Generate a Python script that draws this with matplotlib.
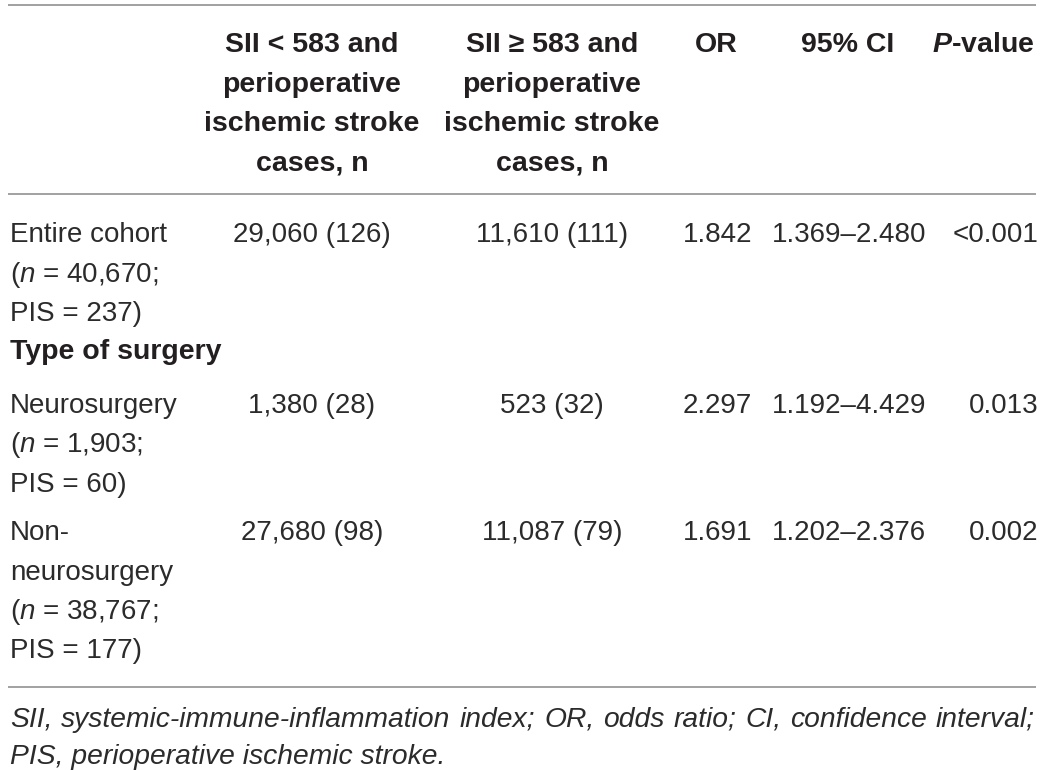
import matplotlib
matplotlib.use("Agg")
import matplotlib.pyplot as plt

plt.rcParams['font.family'] = ['Liberation Sans', 'DejaVu Sans']
plt.rcParams['mathtext.fontset'] = 'custom'
plt.rcParams['mathtext.rm'] = 'Liberation Sans'
plt.rcParams['mathtext.it'] = 'Liberation Sans:italic'
plt.rcParams['mathtext.bf'] = 'Liberation Sans:bold'
plt.rcParams['mathtext.bfit'] = 'Liberation Sans:bold:italic'

# table content
col_headers = [
    ["SII < 583 and", "perioperative", "ischemic stroke", "cases, n"],
    ["SII \u2265 583 and", "perioperative", "ischemic stroke", "cases, n"],
    ["OR"],
    ["95% CI"],
    [r"$\mathbfit{P}$-value"],
]
row_labels = [
    ["Entire cohort", r"($\mathit{n}$ = 40,670;", "PIS = 237)"],
    ["Neurosurgery", r"($\mathit{n}$ = 1,903;", "PIS = 60)"],
    ["Non-", "neurosurgery", r"($\mathit{n}$ = 38,767;", "PIS = 177)"],
]
section_label = "Type of surgery"
low_sii = ["29,060 (126)", "1,380 (28)", "27,680 (98)"]
high_sii = ["11,610 (111)", "523 (32)", "11,087 (79)"]
odds_ratio = ["1.842", "2.297", "1.691"]
conf_int = ["1.369\u20132.480", "1.192\u20134.429", "1.202\u20132.376"]
p_values = ["<0.001", "0.013", "0.002"]
footnote = ["SII, systemic-immune-inflammation index; OR, odds ratio; CI, confidence interval;",
            "PIS, perioperative ischemic stroke."]

txt = '#231f20'
body = '#2b2b2b'
fs = 20

fig = plt.figure(figsize=(10.43, 7.70), dpi=100)
ax = fig.add_axes([0, 0, 1, 1])
ax.set_xlim(0, 1043)
ax.set_ylim(770, 0)
ax.axis('off')

ax.hlines([5, 194, 687], 8, 1036, color='#9a9a9a', lw=1.3)

# header
head_x = [312, 552, 716, 848, 983]
step = 39.5
for x, lines in zip(head_x, col_headers):
    for i, s in enumerate(lines):
        ax.text(x, 52 + i * step, s, ha='center', va='baseline',
                fontsize=20.5, fontweight='bold', color=txt)

# body
row_top = [242, 413, 540]
for r, lines in enumerate(row_labels):
    y0 = row_top[r]
    for i, s in enumerate(lines):
        ax.text(10, y0 + i * step, s, ha='left', va='baseline', fontsize=fs, color=body)
    ax.text(312, y0, low_sii[r], ha='center', va='baseline', fontsize=fs, color=body)
    ax.text(552, y0, high_sii[r], ha='center', va='baseline', fontsize=fs, color=body)
    ax.text(752, y0, odds_ratio[r], ha='right', va='baseline', fontsize=fs, color=body)
    ax.text(849, y0, conf_int[r], ha='center', va='baseline', fontsize=fs, color=body)
    ax.text(1038, y0, p_values[r], ha='right', va='baseline', fontsize=fs, color=body)

ax.text(10, 359, section_label, ha='left', va='baseline', fontsize=20.5,
        fontweight='bold', color=txt)

# footnote, first line justified
fig.canvas.draw()
renderer = fig.canvas.get_renderer()
words = footnote[0].split(' ')
objs = [ax.text(0, 727, w, ha='left', va='baseline', fontsize=20.3, style='italic', color=body)
        for w in words]
inv = ax.transData.inverted()
widths = []
for t in objs:
    bb = t.get_window_extent(renderer)
    (xa, _), (xb, _) = inv.transform([(bb.x0, 0), (bb.x1, 0)])
    widths.append(xb - xa)
left, right = 10, 1035
gap = (right - left - sum(widths)) / (len(words) - 1)
x = left
for t, w in zip(objs, widths):
    t.set_x(x)
    x += w + gap
ax.text(10, 764, footnote[1], ha='left', va='baseline', fontsize=20.3, style='italic', color=body)

fig.savefig('out.png', dpi=100)
